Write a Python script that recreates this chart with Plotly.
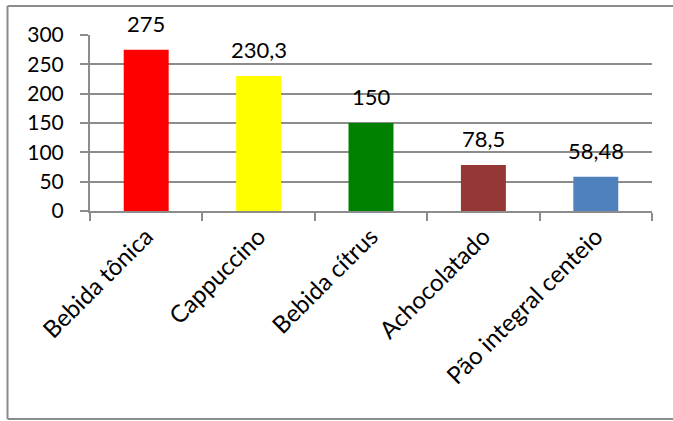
import plotly.graph_objects as go

categories = ["Bebida tônica", "Cappuccino", "Bebida cítrus", "Achocolatado", "Pão integral centeio"]
values = [275, 230.3, 150, 78.5, 58.48]
value_labels = ["275", "230,3", "150", "78,5", "58,48"]
bar_colors = ["#FF0000", "#FFFF00", "#008000", "#953735", "#4F81BD"]
y_ticks = [0, 50, 100, 150, 200, 250, 300]

FONT = "Lato"
GRID = "#8c8c8c"

fig = go.Figure()
fig.add_trace(go.Bar(x=categories, y=values, marker=dict(color=bar_colors, line=dict(width=0)),
                     hoverinfo="skip"))

for c, v, t in zip(categories, values, value_labels):
    fig.add_annotation(x=c, y=v, text=t, showarrow=False, yanchor="bottom",
                       yshift=11, font=dict(family=FONT, size=22, color="black"))

# outer frame (cropped at right): left, top and bottom edges
fx0 = -(90 - 7.5) / 562
fy0 = -(419 - 211) / 176
fy1 = (211 - 6) / 176
frame = dict(type="line", xref="paper", yref="paper", line=dict(color="#8c8c8c", width=2), layer="below")
fig.add_shape(x0=fx0, x1=fx0, y0=fy0, y1=fy1, **frame)
fig.add_shape(x0=fx0, x1=1.2, y0=fy1, y1=fy1, **frame)
fig.add_shape(x0=fx0, x1=1.2, y0=fy0, y1=fy0, **frame)

fig.update_layout(
    width=673, height=421,
    margin=dict(l=90, r=21, t=35, b=210),
    paper_bgcolor="white", plot_bgcolor="white",
    bargap=0.6, showlegend=False,
    font=dict(family=FONT, size=21, color="black"),
)
fig.update_xaxes(
    type="category", showline=True, linecolor=GRID, linewidth=2,
    ticks="outside", tickson="boundaries", ticklen=8, tickwidth=2, tickcolor=GRID,
    tickangle=-45, tickfont=dict(family=FONT, size=24, color="black"),
    showgrid=False, range=[-0.5, 4.5],
)
fig.update_yaxes(
    range=[0, 300], tickvals=y_ticks, showline=True, linecolor=GRID, linewidth=2,
    ticks="outside", ticklen=8, tickwidth=2, tickcolor=GRID,
    showgrid=True, gridcolor=GRID, gridwidth=2, zeroline=False,
    tickfont=dict(family=FONT, size=21, color="black"), ticklabelstandoff=12,
)

fig.write_html("out.html")
